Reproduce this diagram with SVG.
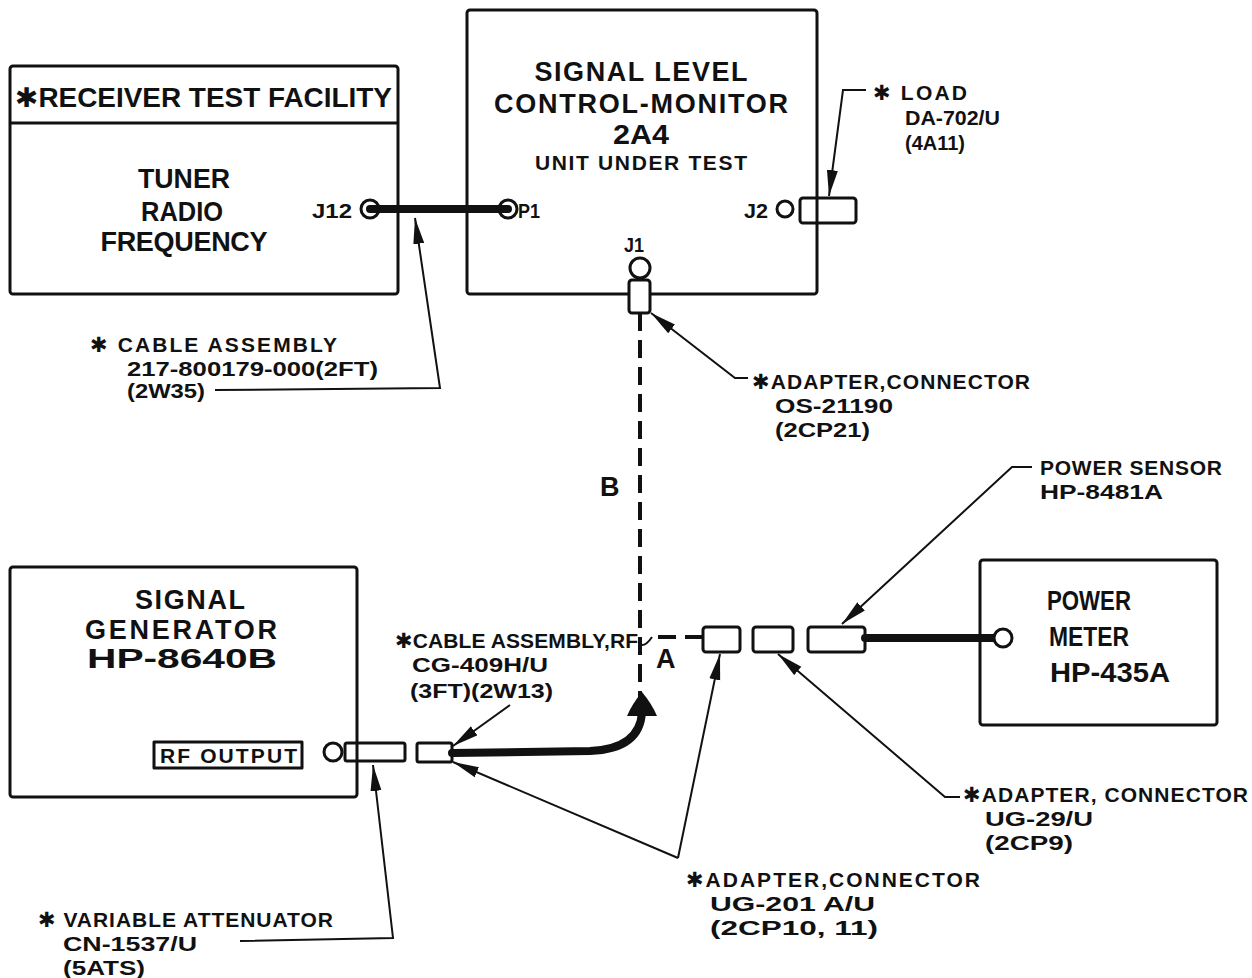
<svg xmlns="http://www.w3.org/2000/svg" width="1252" height="978" viewBox="0 0 1252 978">
<defs>
<style>
.box{fill:none;stroke:#111;stroke-width:3;stroke-linejoin:round}
.part{fill:#fff;stroke:#111;stroke-width:3}
.jack{fill:#fff;stroke:#111;stroke-width:3}
.cable{fill:none;stroke:#111;stroke-width:8;stroke-linecap:round}
.lead{fill:none;stroke:#111;stroke-width:2}
.dash{fill:none;stroke:#111;stroke-width:4;stroke-dasharray:18 9}
text{font-family:"Liberation Sans","DejaVu Sans",sans-serif;font-weight:bold;fill:#111}
.big{font-size:27px}
.mid{font-size:20px}
.sm{font-size:21px}
.mid-c{text-anchor:middle}
</style>
<marker id="ah" viewBox="0 0 26 12" refX="26" refY="6" markerWidth="26" markerHeight="12" markerUnits="userSpaceOnUse" orient="auto">
<path d="M0,0.5 L26,6 L0,11.5 Z" fill="#111"/>
</marker>
</defs>
<rect width="1252" height="978" fill="#fff"/>

<g id="receiver">
<rect class="box" x="10" y="66" width="388" height="228" rx="3"/>
<line class="box" x1="10" y1="123" x2="398" y2="123"/>
<text class="big" x="15" y="107" textLength="377" lengthAdjust="spacingAndGlyphs">✱RECEIVER TEST FACILITY</text>
<text class="big mid-c" x="184" y="188" textLength="92" lengthAdjust="spacingAndGlyphs">TUNER</text>
<text class="big mid-c" x="182" y="221" textLength="82" lengthAdjust="spacingAndGlyphs">RADIO</text>
<text class="big mid-c" x="184" y="251" textLength="167" lengthAdjust="spacing">FREQUENCY</text>
<text class="mid" x="352" y="218" text-anchor="end" textLength="40" lengthAdjust="spacingAndGlyphs">J12</text>
</g>

<g id="slcm">
<rect class="box" x="467" y="10" width="350" height="284" rx="3"/>
<text class="big mid-c" x="641" y="81" font-size="29" textLength="213" lengthAdjust="spacing">SIGNAL LEVEL</text>
<text class="big mid-c" x="641" y="113" font-size="29" textLength="294" lengthAdjust="spacing">CONTROL-MONITOR</text>
<text class="big mid-c" x="641" y="144" font-size="29" textLength="56" lengthAdjust="spacingAndGlyphs">2A4</text>
<text class="sm mid-c" x="641" y="170" textLength="212" lengthAdjust="spacing">UNIT UNDER TEST</text>
<text class="mid" x="518" y="218" textLength="22" lengthAdjust="spacingAndGlyphs">P1</text>
<text class="mid mid-c" x="634" y="252" textLength="20" lengthAdjust="spacingAndGlyphs">J1</text>
<text class="mid" x="768" y="218" text-anchor="end" textLength="24" lengthAdjust="spacingAndGlyphs">J2</text>
</g>

<g id="siggen">
<rect class="box" x="10" y="567" width="347" height="230" rx="3"/>
<text class="big mid-c" x="190" y="609" textLength="110" lengthAdjust="spacing">SIGNAL</text>
<text class="big mid-c" x="181" y="639" textLength="192" lengthAdjust="spacing">GENERATOR</text>
<text class="big mid-c" x="182" y="668" textLength="190" lengthAdjust="spacingAndGlyphs">HP-8640B</text>
<rect class="box" x="154" y="742" width="148" height="26" stroke-width="2.5"/>
<text class="sm" x="160" y="763" font-size="19" textLength="137" lengthAdjust="spacing">RF OUTPUT</text>
</g>

<g id="powermeter">
<rect class="box" x="980" y="560" width="237" height="165" rx="3"/>
<text class="big mid-c" x="1089" y="610" textLength="84" lengthAdjust="spacingAndGlyphs">POWER</text>
<text class="big mid-c" x="1089" y="646" textLength="80" lengthAdjust="spacingAndGlyphs">METER</text>
<text class="big mid-c" x="1110" y="682" textLength="120" lengthAdjust="spacingAndGlyphs">HP-435A</text>
</g>

<g id="labels">
<text class="sm" x="90" y="352" textLength="247" lengthAdjust="spacing">✱ CABLE ASSEMBLY</text>
<text class="sm" x="127" y="376" textLength="251" lengthAdjust="spacingAndGlyphs">217-800179-000(2FT)</text>
<text class="sm" x="127" y="398" textLength="78" lengthAdjust="spacingAndGlyphs">(2W35)</text>

<text class="sm" x="873" y="100" textLength="94" lengthAdjust="spacing">✱ LOAD</text>
<text class="sm" x="905" y="125" textLength="95" lengthAdjust="spacingAndGlyphs">DA-702/U</text>
<text class="sm" x="905" y="150" textLength="60" lengthAdjust="spacingAndGlyphs">(4A11)</text>

<text class="sm" x="752" y="389" textLength="278" lengthAdjust="spacing">✱ADAPTER,CONNECTOR</text>
<text class="sm" x="775" y="413" textLength="118" lengthAdjust="spacingAndGlyphs">OS-21190</text>
<text class="sm" x="775" y="437" textLength="95" lengthAdjust="spacingAndGlyphs">(2CP21)</text>

<text class="sm" x="1040" y="475" textLength="182" lengthAdjust="spacing">POWER SENSOR</text>
<text class="sm" x="1040" y="499" textLength="123" lengthAdjust="spacingAndGlyphs">HP-8481A</text>

<text class="big" x="600" y="496" font-size="23">B</text>
<text class="big" x="656" y="668" font-size="23">A</text>

<text class="sm" x="395" y="648" textLength="243" lengthAdjust="spacing">✱CABLE ASSEMBLY,RF</text>
<text class="sm" x="412" y="672" textLength="136" lengthAdjust="spacingAndGlyphs">CG-409H/U</text>
<text class="sm" x="410" y="698" textLength="143" lengthAdjust="spacingAndGlyphs">(3FT)(2W13)</text>

<text class="sm" x="963" y="802" textLength="285" lengthAdjust="spacing">✱ADAPTER, CONNECTOR</text>
<text class="sm" x="985" y="826" textLength="108" lengthAdjust="spacingAndGlyphs">UG-29/U</text>
<text class="sm" x="985" y="850" textLength="88" lengthAdjust="spacingAndGlyphs">(2CP9)</text>

<text class="sm" x="686" y="887" textLength="294" lengthAdjust="spacing">✱ADAPTER,CONNECTOR</text>
<text class="sm" x="710" y="911" textLength="165" lengthAdjust="spacingAndGlyphs">UG-201 A/U</text>
<text class="sm" x="710" y="935" textLength="168" lengthAdjust="spacingAndGlyphs">(2CP10, 11)</text>

<text class="sm" x="38" y="927" textLength="295" lengthAdjust="spacing">✱ VARIABLE ATTENUATOR</text>
<text class="sm" x="63" y="951" textLength="134" lengthAdjust="spacingAndGlyphs">CN-1537/U</text>
<text class="sm" x="63" y="975" textLength="82" lengthAdjust="spacingAndGlyphs">(5ATS)</text>
</g>

<g id="connectors">
<line class="cable" x1="370" y1="209" x2="508" y2="209"/>
<circle class="jack" cx="370" cy="209" r="9" style="fill:none"/>
<circle class="jack" cx="508" cy="209" r="9" style="fill:none"/>
<circle class="jack" cx="640" cy="268" r="10"/>
<rect class="part" x="629" y="280" width="21" height="33" rx="3"/>
<circle class="jack" cx="785" cy="209" r="8"/>
<rect class="part" x="800" y="198" width="56" height="25" rx="3"/>
<line class="box" x1="817" y1="198" x2="817" y2="223"/>
<line class="dash" x1="640" y1="313" x2="640" y2="700"/>
<path class="lead" d="M641,645 Q646,646 652,637" stroke-width="3"/>
<line class="dash" x1="658" y1="637" x2="703" y2="637" stroke-dasharray="14 8" stroke-width="3.5"/>
<circle class="jack" cx="333" cy="752" r="9"/>
<rect class="part" x="345" y="743" width="60" height="18" rx="2"/>
<line class="box" x1="357" y1="743" x2="357" y2="761"/>
<rect class="part" x="417" y="743" width="35" height="19" rx="2"/>
<path class="cable" d="M452,753 L590,751 Q640,749 642,712" stroke-linecap="butt"/>
<path d="M642,692 Q652,704 657,716 L627,716 Q632,704 642,692 Z" fill="#111"/>
<rect class="part" x="703" y="627" width="37" height="25" rx="3"/>
<rect class="part" x="753" y="627" width="40" height="25" rx="3"/>
<rect class="part" x="808" y="627" width="57" height="25" rx="3"/>
<line class="cable" x1="865" y1="638" x2="1003" y2="638" stroke-linecap="butt"/>
<circle class="jack" cx="1003" cy="638" r="9"/>
<polyline class="lead" points="215,390 440,388 415,218" marker-end="url(#ah)"/>
<polyline class="lead" points="866,90 843,90 829,196" marker-end="url(#ah)"/>
<polyline class="lead" points="748,378 735,378 651,313" marker-end="url(#ah)"/>
<polyline class="lead" points="1032,467 1012,467 842,624" marker-end="url(#ah)"/>
<line class="lead" x1="510" y1="705" x2="453" y2="746" marker-end="url(#ah)"/>
<polyline class="lead" points="960,797 945,797 778,654" marker-end="url(#ah)"/>
<line class="lead" x1="678" y1="858" x2="453" y2="762" marker-end="url(#ah)"/>
<line class="lead" x1="678" y1="858" x2="720" y2="654" marker-end="url(#ah)"/>
<polyline class="lead" points="240,941 393,938 373,765" marker-end="url(#ah)"/>
</g>
</svg>
